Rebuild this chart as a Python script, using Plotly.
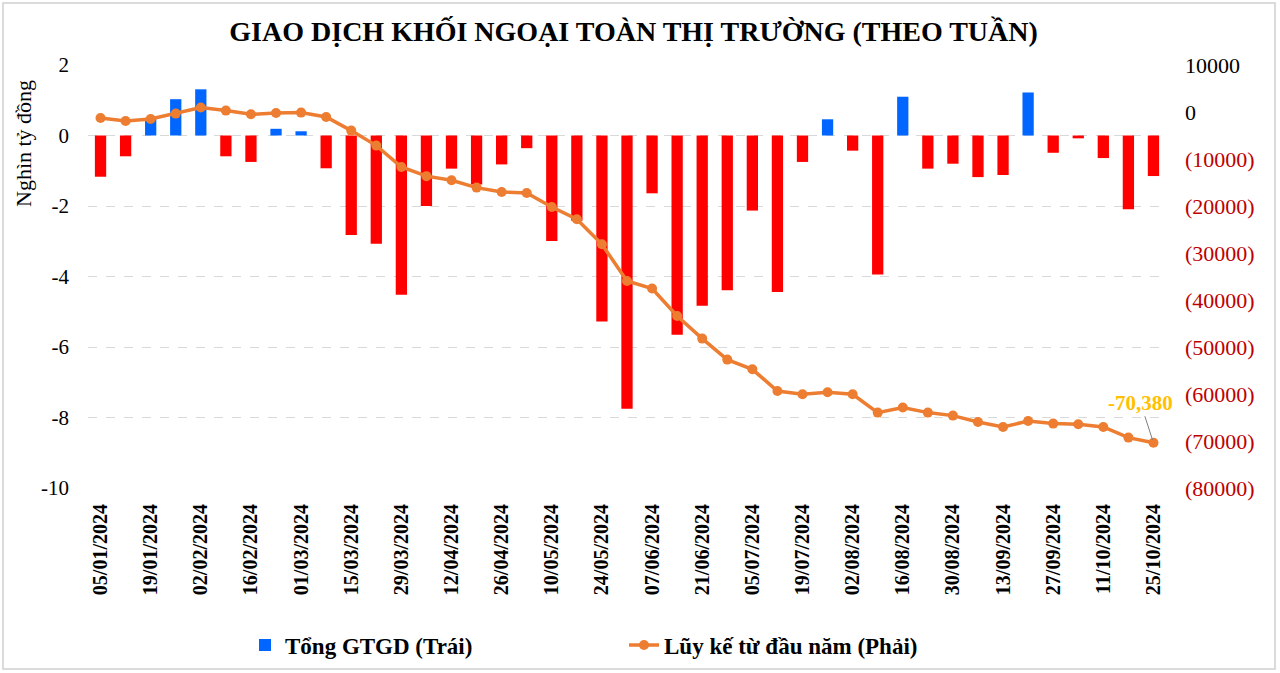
import plotly.graph_objects as go

# ---------------- data ----------------
weeks = [
    "05/01/2024", "12/01/2024", "19/01/2024", "26/01/2024", "02/02/2024", "09/02/2024",
    "16/02/2024", "23/02/2024", "01/03/2024", "08/03/2024", "15/03/2024", "22/03/2024",
    "29/03/2024", "05/04/2024", "12/04/2024", "19/04/2024", "26/04/2024", "03/05/2024",
    "10/05/2024", "17/05/2024", "24/05/2024", "31/05/2024", "07/06/2024", "14/06/2024",
    "21/06/2024", "28/06/2024", "05/07/2024", "12/07/2024", "19/07/2024", "26/07/2024",
    "02/08/2024", "09/08/2024", "16/08/2024", "23/08/2024", "30/08/2024", "06/09/2024",
    "13/09/2024", "20/09/2024", "27/09/2024", "04/10/2024", "11/10/2024", "18/10/2024",
    "25/10/2024",
]

# Weekly net foreign trading (thousand billion VND) - left axis
weekly_net = [
    -1.17, -0.59, 0.50, 1.03, 1.31, -0.59, -0.75, 0.19, 0.12, -0.93,
    -2.82, -3.07, -4.52, -2.00, -0.94, -1.39, -0.82, -0.36, -2.99, -2.42,
    -5.28, -7.75, -1.64, -5.65, -4.83, -4.39, -2.13, -4.44, -0.75, 0.46,
    -0.43, -3.94, 1.10, -0.94, -0.80, -1.18, -1.12, 1.22, -0.49, -0.08,
    -0.64, -2.09, -1.15,
]

# Year-to-date cumulative (billion VND) - right axis
ytd_cumulative = [
    -1280, -1910, -1490, -340, 940, 300, -490, -210, -130, -1060,
    -3960, -7150, -11700, -13650, -14530, -16090, -17020, -17230, -20210, -22830,
    -28150, -35960, -37570, -43400, -48210, -52680, -54750, -59360, -60060, -59640,
    -60060, -63960, -62890, -63960, -64600, -65960, -67020, -65750, -66300, -66450,
    -67020, -69280, -70380,
]

tick_labels = weeks[::2]

left_ticks = [2, 0, -2, -4, -6, -8, -10]
left_ticktext = ["2", "0", "-2", "-4", "-6", "-8", "-10"]

right_ticks = [10000, 0, -10000, -20000, -30000, -40000, -50000, -60000, -70000, -80000]
right_ticktext = ["10000", "0"] + [
    '<span style="color:#C00000">(%d)</span>' % (-v) for v in right_ticks[2:]
]

last_label = "-70,380"

# ---------------- figure ----------------
FONT = "Liberation Serif"
RED = "#FF0000"
BLUE = "#0066FF"
ORANGE = "#ED7D31"

pos_vals = [v if v >= 0 else None for v in weekly_net]
neg_vals = [v if v < 0 else None for v in weekly_net]

fig = go.Figure()

fig.add_trace(go.Bar(
    x=weeks, y=pos_vals, name="Tổng GTGD (Trái)",
    marker=dict(color=BLUE, line=dict(width=0)),
    legendrank=1,
))
fig.add_trace(go.Bar(
    x=weeks, y=neg_vals, name="Tổng GTGD (Trái) âm",
    marker=dict(color=RED, line=dict(width=0)),
    showlegend=False,
))
fig.add_trace(go.Scatter(
    x=weeks, y=ytd_cumulative, yaxis="y2", name="Lũy kế từ đầu năm (Phải)",
    mode="lines+markers",
    line=dict(color=ORANGE, width=3.5),
    marker=dict(color=ORANGE, size=10),
    legendrank=2,
))

# plot area geometry (pixels)
L, R, T, B = 88, 114, 65, 185
W, H = 1280, 673
pw, ph = W - L - R, H - T - B

def px_x(p):
    return (p - L) / pw

def px_y(p):
    return (H - B - p) / ph

fig.update_layout(
    width=W, height=H,
    margin=dict(l=L, r=R, t=T, b=B, autoexpand=False),
    paper_bgcolor="white", plot_bgcolor="white",
    font=dict(family=FONT, color="black"),
    barmode="relative",
    bargap=0.55,
    title=dict(
        text="GIAO DỊCH KHỐI NGOẠI TOÀN THỊ TRƯỜNG (THEO TUẦN)",
        font=dict(family=FONT, size=28, color="black", weight="bold"),
        x=0.495, xanchor="center", xref="container",
        y=1 - 31 / H, yanchor="middle", yref="container",
    ),
    xaxis=dict(
        type="category",
        categoryorder="array", categoryarray=weeks,
        tickmode="array", tickvals=tick_labels, ticktext=tick_labels,
        tickangle=-90,
        tickfont=dict(family=FONT, size=20, color="black", weight="bold"),
        ticks="", showgrid=False, showline=False, zeroline=False,
        ticklabelstandoff=11, automargin=False,
        range=[-0.5, len(weeks) - 0.5],
    ),
    xaxis2=dict(
        overlaying="x", anchor="free", position=10 / 12,
        type="linear", range=[-0.5, len(weeks) - 0.5],
        tickmode="linear", tick0=-0.5, dtick=1,
        ticks="outside", ticklen=5, tickcolor="#BFBFBF", tickwidth=1,
        showticklabels=False, showgrid=False, zeroline=False,
        showline=True, linecolor="#BFBFBF", linewidth=1, automargin=False,
    ),
    yaxis=dict(
        range=[-10, 2],
        tickmode="array", tickvals=left_ticks, ticktext=left_ticktext,
        tickfont=dict(family=FONT, size=21, color="black"),
        showgrid=True, gridcolor="#D9D9D9", griddash="dash", gridwidth=1,
        zeroline=False, showline=False, ticks="",
        ticklabelstandoff=18, automargin=False,
    ),
    yaxis2=dict(
        range=[-80000, 10000], overlaying="y", side="right",
        tickmode="array", tickvals=right_ticks, ticktext=right_ticktext,
        tickfont=dict(family=FONT, size=22, color="black"),
        showgrid=False, zeroline=False, showline=False, ticks="",
        ticklabelstandoff=18, automargin=False,
    ),
    legend=dict(
        orientation="h",
        x=px_x(245), xanchor="left",
        y=px_y(645), yanchor="middle",
        font=dict(family=FONT, size=23, color="black", weight="bold"),
        entrywidth=334, entrywidthmode="pixels",
        bgcolor="rgba(0,0,0,0)",
    ),
    showlegend=True,
)

# y-axis title
fig.add_annotation(
    text="Nghìn tỷ đồng", textangle=-90,
    xref="paper", yref="paper",
    x=px_x(23), y=px_y(144), xanchor="center", yanchor="middle",
    showarrow=False,
    font=dict(family=FONT, size=22, color="black"),
)

# last value label
fig.add_annotation(
    x=weeks[-1], y=ytd_cumulative[-1], xref="x", yref="y2",
    text=last_label, showarrow=True, arrowhead=0, arrowwidth=1,
    arrowcolor="#7F7F7F", ax=-13, ay=-40, standoff=3,
    font=dict(family=FONT, size=21, color="#FFC000", weight="bold"),
)

# outer frame
fig.add_shape(
    type="rect", xref="paper", yref="paper",
    x0=px_x(3), x1=px_x(1275), y0=px_y(669), y1=px_y(3),
    line=dict(color="#D0D0D0", width=1.5), fillcolor="rgba(0,0,0,0)",
    layer="below",
)

fig.write_html("out.html")
